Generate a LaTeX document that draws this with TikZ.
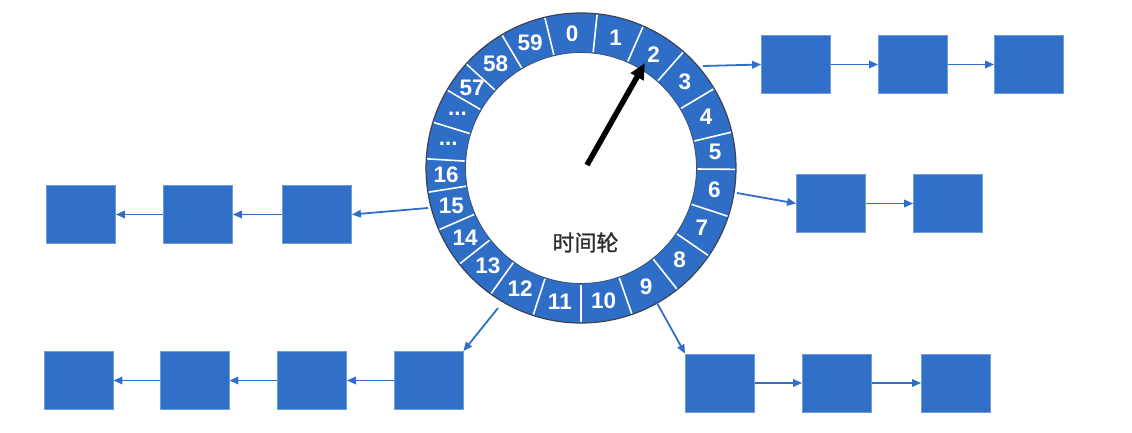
\documentclass[tikz,border=0pt]{standalone}
\usepackage{fontspec}
\setmainfont{Liberation Sans}
\newfontfamily\cjk[FakeBold=1.2]{Noto Sans CJK SC}
\usetikzlibrary{arrows.meta}
\definecolor{ringblue}{RGB}{46,110,198}
\definecolor{boxblue}{RGB}{47,111,199}
\definecolor{boxedge}{RGB}{110,155,220}
\definecolor{ringedge}{RGB}{60,66,80}
\definecolor{txtgray}{RGB}{45,45,45}
\tikzset{
  listbox/.style={rectangle, fill=boxblue, draw=boxedge, line width=0.8pt, minimum width=69pt, minimum height=58pt, inner sep=0pt},
  link/.style={draw=boxblue, line width=1.8pt, -{Triangle[length=9pt,width=7.5pt]}},
  slotlabel/.style={text=white, font=\bfseries\fontsize{22.5pt}{22.5pt}\selectfont, inner sep=0pt},
  pointer/.style={draw=black, line width=5.5pt, -{Triangle[length=16pt,width=14pt]}},
}
\begin{document}
\begin{tikzpicture}[x=1pt,y=-1pt]
\useasboundingbox (0,0) rectangle (1132,433);
% ring
\begin{scope}[shift={(581,168)}, yscale=-1]
  \fill[ringblue, even odd rule] (0,0) circle (155) (0,0) circle (115.5);
  \draw[ringedge, line width=1.2pt] (0,0) circle (155);
  \draw[ringedge!70!ringblue, line width=0.8pt] (0,0) circle (115.5);
  \foreach \a in {84,66.3,48.6,30.8,13.4,-0.5,-18.2,-34.5,-51.6,-70.8,-90,-108,-125.6,-141.7,-156.5,-171,-183.4,-197.2,-210.2,-222.2,-239.3,-256.5}
    \draw[white, line width=1.6pt] (\a:116.5) -- (\a:154.2);
  \foreach \a/\t in {93.75/0,75.15/1,57.45/2,39.7/3,22.1/4,6.7/5,-9.1/6,-26.35/7,-43.05/8,-61.2/9,-80.4/10,-99/11,-116.8/12,-133.65/13,-149.1/14,-163.75/15,-177.2/16,-190.3/{...},-203.7/{...},-216.2/57,-230.75/58,-247.9/59}
    \node[slotlabel] (s\t) at (\a:135) {\t};
\end{scope}
\node[text=txtgray, font=\cjk\fontsize{22pt}{22pt}\selectfont, inner sep=0pt] (title) at (585.5,242.5) {时间轮};
% pointer
\coordinate (pbase) at (587,165);
\coordinate (ptip) at (645,63);
\draw[pointer] (pbase) -- (ptip);
% boxes
\node[listbox] (t1) at (796,64.5) {};
\node[listbox] (t2) at (913,64.5) {};
\node[listbox] (t3) at (1029,64.5) {};
\node[listbox] (m1) at (831,203.5) {};
\node[listbox] (m2) at (948,203.5) {};
\node[listbox] (l1) at (81,214.5) {};
\node[listbox] (l2) at (198,214.5) {};
\node[listbox] (l3) at (317,214.5) {};
\node[listbox] (b1) at (78.5,380.5) {};
\node[listbox] (b2) at (194.5,380.5) {};
\node[listbox] (b3) at (312,380.5) {};
\node[listbox] (b4) at (428.5,380.5) {};
\node[listbox] (r1) at (720,383) {};
\node[listbox] (r2) at (837,383) {};
\node[listbox] (r3) at (956,383) {};
% ring exits
\coordinate (c2) at (703,66);
\coordinate (c6) at (737,193);
\coordinate (c15) at (428,208);
\coordinate (c12) at (498,308);
\coordinate (c9) at (657,303);
\draw[link] (c2) -- (t1.west);
\draw[link] (t1) -- (t2);
\draw[link] (t2) -- (t3);
\draw[link] (c6) -- (m1.west);
\draw[link] (m1) -- (m2);
\draw[link] (c15) -- (l3.east);
\draw[link] (l3) -- (l2);
\draw[link] (l2) -- (l1);
\draw[link] (c12) -- (b4.north east);
\draw[link] (b4) -- (b3);
\draw[link] (b3) -- (b2);
\draw[link] (b2) -- (b1);
\draw[link] (c9) -- (r1.north west);
\draw[link] (r1) -- (r2);
\draw[link] (r2) -- (r3);
\end{tikzpicture}
\end{document}
